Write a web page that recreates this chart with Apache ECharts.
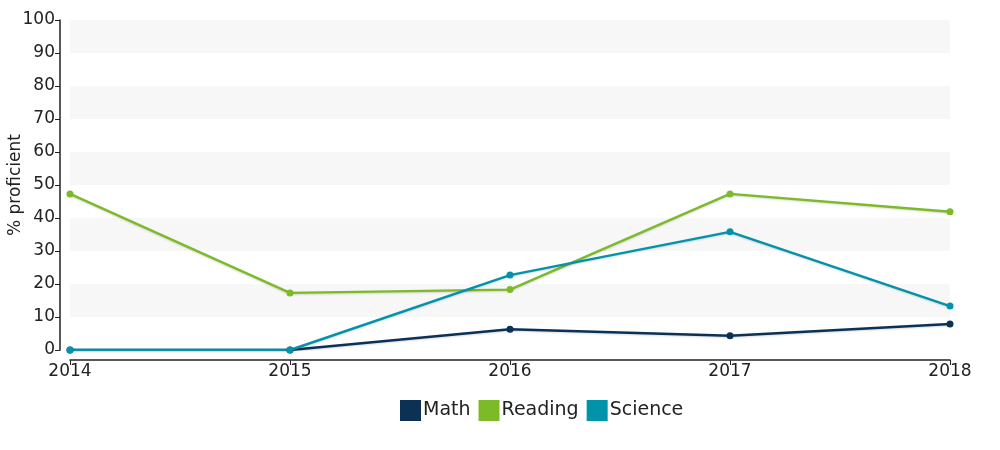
<!DOCTYPE html>
<html><head><meta charset="utf-8">
<script src="https://cdn.jsdelivr.net/npm/echarts@6/dist/echarts.min.js"></script>
<style>html,body{margin:0;padding:0;background:#fff}#c{width:1000px;height:450px}</style>
</head><body><div id="c"></div>
<script>
const years = ['2014', '2015', '2016', '2017', '2018'];
const math = [0, 0, 6.3, 4.3, 7.9];
const reading = [47.3, 17.3, 18.3, 47.3, 41.9];
const science = [0, 0, 22.7, 35.8, 13.3];
const yTicks = [0, 10, 20, 30, 40, 50, 60, 70, 80, 90, 100];

const font = 'DejaVu Sans, Verdana, sans-serif';
const colors = {Math: '#0b3155', Reading: '#7cba27', Science: '#0193aa'};

function mk(name, data) {
  return {
    name, type: 'line', data,
    symbol: 'circle', symbolSize: 7,
    lineStyle: {width: 2.4, color: colors[name], shadowColor: 'rgba(0,0,0,0.15)', shadowBlur: 2, shadowOffsetY: 1},
    itemStyle: {color: colors[name]},
    emphasis: {disabled: true}
  };
}

const chart = echarts.init(document.getElementById('c'), null, {renderer: 'canvas'});
chart.setOption({
  animation: false,
  color: [colors.Math, colors.Reading, colors.Science],
  grid: {left: 70, right: 50, top: 20, bottom: 100, containLabel: false, outerBoundsMode: 'none'},
  legend: {
    left: 400, top: 400, padding: 0, icon: 'rect', itemWidth: 21, itemHeight: 21, itemGap: 8,
    textStyle: {fontFamily: font, fontSize: 19, color: '#222', padding: [0, 0, 0, -3]},
    data: ['Math', 'Reading', 'Science']
  },
  xAxis: {
    type: 'category', data: years, boundaryGap: false, offset: 10,
    axisLine: {onZero: false, lineStyle: {color: '#222', width: 1.5}},
    axisTick: {length: 5, lineStyle: {color: '#222'}, alignWithLabel: true},
    axisLabel: {fontFamily: font, fontSize: 17, color: '#222', margin: 3},
    splitLine: {show: false}
  },
  yAxis: {
    type: 'value', min: 0, max: 100, interval: 10, offset: 10,
    name: '% proficient', nameLocation: 'middle', nameGap: 36, nameMoveOverlap: false,
    nameTextStyle: {fontFamily: font, fontSize: 17, color: '#222'},
    axisLine: {show: true, lineStyle: {color: '#222', width: 1.5}},
    axisTick: {show: true, length: 5, lineStyle: {color: '#222'}},
    axisLabel: {fontFamily: font, fontSize: 17, color: '#222', margin: 5,
      formatter: v => yTicks.includes(v) ? String(v) : ''},
    splitLine: {show: false},
    splitArea: {show: true, areaStyle: {color: ['#ffffff', '#f7f7f7']}}
  },
  series: [mk('Math', math), mk('Reading', reading), mk('Science', science)]
});
</script></body></html>
